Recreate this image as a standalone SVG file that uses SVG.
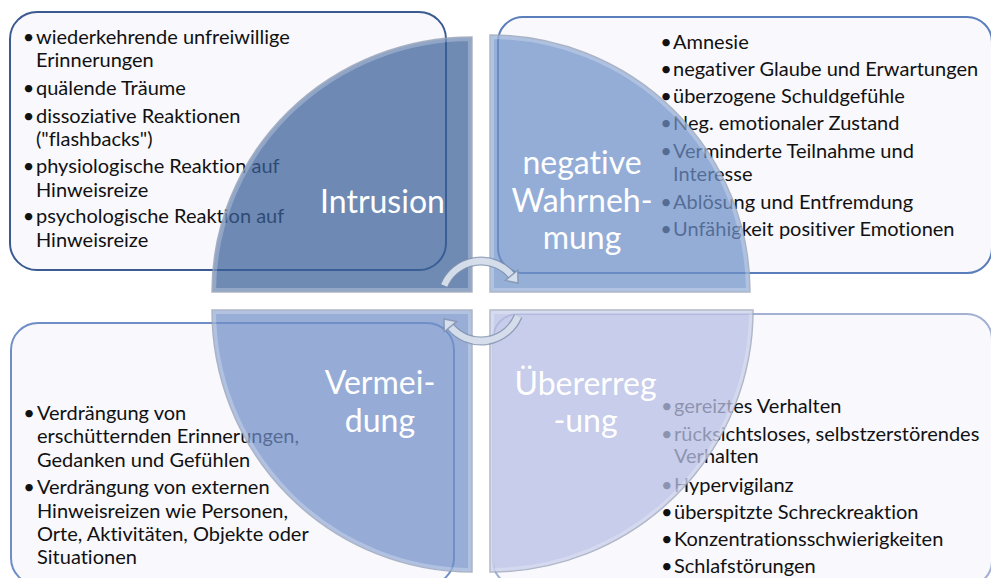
<svg xmlns="http://www.w3.org/2000/svg" width="991" height="578" viewBox="0 0 991 578">
<defs>
<style>
text{font-variant-ligatures:none;font-feature-settings:"liga" 0,"dlig" 0}
.box{fill:#f8f8fd;stroke-width:2}
.t{font-family:Lato,"Liberation Sans",sans-serif;font-size:20px;fill:#111}
.b{font-family:Lato,"Liberation Sans",sans-serif;font-size:20px;fill:#111;text-anchor:middle}
.lbl{font-family:Lato,"Liberation Sans",sans-serif;font-size:32px;fill:#fff;text-anchor:middle}
.q{stroke:#8d97ab;stroke-opacity:.7;stroke-width:1.5}
.hl{fill:none;stroke:#fff;stroke-opacity:.25;stroke-width:8}
.arc-o{fill:none;stroke:#7f90ad;stroke-width:9;stroke-opacity:.8}
.arc-i{fill:none;stroke:#dde4ef;stroke-width:6.5;stroke-opacity:.9}
.head{fill:#dde4ef;fill-opacity:.9;stroke:#7f90ad;stroke-width:1.5;stroke-opacity:.8}
</style>
<path id="pTL" d="M472 292 L212 292 A260 255 0 0 1 472 37 Z"/>
<path id="pTR" d="M490 292 L490 35 A260 257 0 0 1 750 292 Z"/>
<path id="pBL" d="M472 310 L212 310 A260 262 0 0 0 472 572 Z"/>
<path id="pBR" d="M490 310 L753 310 A263 262 0 0 1 490 572 Z"/>
<clipPath id="cTL"><use href="#pTL"/></clipPath>
<clipPath id="cTR"><use href="#pTR"/></clipPath>
<clipPath id="cBL"><use href="#pBL"/></clipPath>
<clipPath id="cBR"><use href="#pBR"/></clipPath>
</defs>
<rect width="991" height="578" fill="#fff"/>

<g id="box-intrusion">
<rect class="box" x="10" y="12" width="436" height="258" rx="27" stroke="#3a5a91"/>
<text class="b" x="28.5" y="44">•</text><text class="t" x="36" y="44">wiederkehrende unfreiwillige</text>
<text class="t" x="36" y="67">Erinnerungen</text>
<text class="b" x="28.5" y="94.5">•</text><text class="t" x="36" y="94.5">quälende Träume</text>
<text class="b" x="28.5" y="122.5">•</text><text class="t" x="36" y="122.5">dissoziative Reaktionen</text>
<text class="t" x="36" y="145.5">("flashbacks")</text>
<text class="b" x="28.5" y="173">•</text><text class="t" x="36" y="173">physiologische Reaktion auf</text>
<text class="t" x="36" y="196.5">Hinweisreize</text>
<text class="b" x="28.5" y="222.5">•</text><text class="t" x="36" y="222.5">psychologische Reaktion auf</text>
<text class="t" x="36" y="246.5">Hinweisreize</text>
</g>

<g id="box-wahrnehmung">
<rect class="box" x="498" y="17" width="494" height="256" rx="25" stroke="#5a7dbb"/>
<text class="b" x="666" y="48.5">•</text><text class="t" x="673" y="48.5">Amnesie</text>
<text class="b" x="666" y="76">•</text><text class="t" x="673" y="76">negativer Glaube und Erwartungen</text>
<text class="b" x="666" y="102.7">•</text><text class="t" x="673" y="102.7">überzogene Schuldgefühle</text>
<text class="b" x="666" y="130">•</text><text class="t" x="673" y="130">Neg. emotionaler Zustand</text>
<text class="b" x="666" y="157.7">•</text><text class="t" x="673" y="157.7">Verminderte Teilnahme und</text>
<text class="t" x="673" y="181">Interesse</text>
<text class="b" x="666" y="209.3">•</text><text class="t" x="673" y="209.3">Ablösung und Entfremdung</text>
<text class="b" x="666" y="236">•</text><text class="t" x="673" y="236">Unfähigkeit positiver Emotionen</text>
</g>

<g id="box-vermeidung">
<rect class="box" x="11" y="323" width="443" height="262" rx="27" stroke="#6f8dc6"/>
<text class="b" x="29" y="420">•</text><text class="t" x="37" y="420">Verdrängung von</text>
<text class="t" x="37" y="442.7">erschütternden Erinnerungen,</text>
<text class="t" x="37" y="466.7">Gedanken und Gefühlen</text>
<text class="b" x="29" y="494">•</text><text class="t" x="37" y="494">Verdrängung von externen</text>
<text class="t" x="37" y="517.7">Hinweisreizen wie Personen,</text>
<text class="t" x="37" y="541">Orte, Aktivitäten, Objekte oder</text>
<text class="t" x="37" y="564">Situationen</text>
</g>

<g id="box-uebererregung">
<rect class="box" x="493" y="314" width="499" height="272" rx="25" stroke="#a3b0d3"/>
<text class="b" x="666.7" y="413.3">•</text><text class="t" x="674" y="413.3">gereiztes Verhalten</text>
<text class="b" x="666.7" y="441">•</text><text class="t" x="674" y="441">rücksichtsloses, selbstzerstörendes</text>
<text class="t" x="674" y="463.3">Verhalten</text>
<text class="b" x="666.7" y="491.7">•</text><text class="t" x="674" y="491.7">Hypervigilanz</text>
<text class="b" x="666.7" y="519.3">•</text><text class="t" x="674" y="519.3">überspitzte Schreckreaktion</text>
<text class="b" x="666.7" y="546">•</text><text class="t" x="674" y="546">Konzentrationsschwierigkeiten</text>
<text class="b" x="666.7" y="573.3">•</text><text class="t" x="674" y="573.3">Schlafstörungen</text>
</g>

<g id="seg-intrusion">
<use href="#pTL" class="q" fill="rgb(58,96,152)" fill-opacity=".73"/>
<use href="#pTL" class="hl" clip-path="url(#cTL)"/>
<text class="lbl" x="382.5" y="213">Intrusion</text>
</g>
<g id="seg-wahrnehmung">
<use href="#pTR" class="q" fill="rgb(109,144,199)" fill-opacity=".72"/>
<use href="#pTR" class="hl" clip-path="url(#cTR)"/>
<text class="lbl" x="582" y="174">negative</text>
<text class="lbl" x="582" y="211.5">Wahrneh-</text>
<text class="lbl" x="582" y="248.5">mung</text>
</g>
<g id="seg-vermeidung">
<use href="#pBL" class="q" fill="rgb(112,143,200)" fill-opacity=".72"/>
<use href="#pBL" class="hl" clip-path="url(#cBL)"/>
<text class="lbl" x="380" y="394">Vermei-</text>
<text class="lbl" x="380" y="432">dung</text>
</g>
<g id="seg-uebererregung">
<use href="#pBR" class="q" fill="rgb(183,191,227)" fill-opacity=".75"/>
<use href="#pBR" class="hl" clip-path="url(#cBR)"/>
<text class="lbl" x="585.5" y="395">Übererreg</text>
<text class="lbl" x="585.5" y="432">-ung</text>
</g>

<g id="connectors">
<path class="arc-o" d="M444.2 285.4 A40 40 0 0 1 511.6 275.3"/>
<path class="arc-i" d="M444.2 285.4 A40 40 0 0 1 511.6 275.3"/>
<polygon class="head" points="518,283 517.7,270.2 505.5,280.4"/>
<path class="arc-o" d="M518.1 316 A40 40 0 0 1 450.4 326.7"/>
<path class="arc-i" d="M518.1 316 A40 40 0 0 1 450.4 326.7"/>
<polygon class="head" points="444,319 444.3,331.8 456.5,321.6"/>
</g>
</svg>
